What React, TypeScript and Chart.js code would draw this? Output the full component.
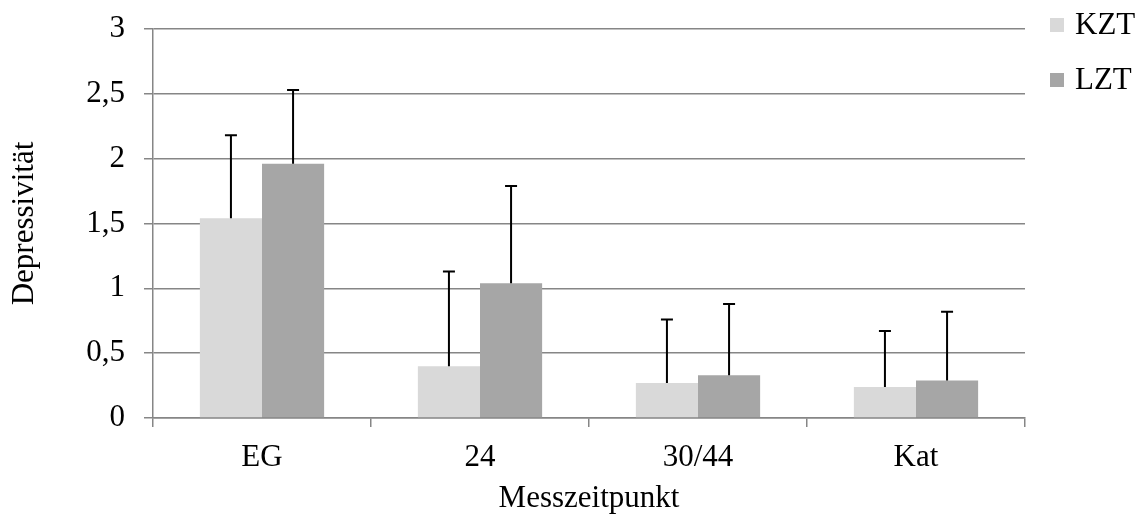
import React, { useEffect, useRef } from "react";
import { Chart, registerables } from "chart.js";

Chart.register(...registerables);

const categories = ["EG", "24", "30/44", "Kat"];
const seriesNames = ["KZT", "LZT"];
const kztValues = [1.54, 0.4, 0.27, 0.24];
const lztValues = [1.96, 1.04, 0.33, 0.29];
const kztErrors = [0.64, 0.73, 0.49, 0.43];
const lztErrors = [0.57, 0.75, 0.55, 0.53];
const yTicks = [0, 0.5, 1, 1.5, 2, 2.5, 3];

const FONT = '"Liberation Serif", "Times New Roman", serif';
const FS = 31;
const GRID = "#868686";
const COLORS = ["#d9d9d9", "#a6a6a6"];

const errorBarPlugin = {
  id: "errorBars",
  afterDatasetsDraw(chart: any) {
    const ctx = chart.ctx;
    const yScale = chart.scales.y;
    chart.data.datasets.forEach((ds: any, di: number) => {
      const meta = chart.getDatasetMeta(di);
      const errs: number[] = ds.errors || [];
      meta.data.forEach((el: any, i: number) => {
        const v = ds.data[i];
        const top = yScale.getPixelForValue(v + errs[i]);
        const base = el.y;
        ctx.save();
        ctx.strokeStyle = "#000";
        ctx.lineWidth = 2;
        ctx.beginPath();
        ctx.moveTo(el.x, base);
        ctx.lineTo(el.x, top);
        ctx.moveTo(el.x - 6, top);
        ctx.lineTo(el.x + 6, top);
        ctx.stroke();
        ctx.restore();
      });
    });
  },
};

const legendPlugin = {
  id: "customLegend",
  afterDraw(chart: any) {
    const ctx = chart.ctx;
    const x0 = chart.chartArea.right + 25;
    chart.data.datasets.forEach((ds: any, i: number) => {
      const cy = 25 + i * 55;
      ctx.save();
      ctx.fillStyle = ds.backgroundColor;
      ctx.fillRect(x0, cy - 7, 14, 14);
      ctx.fillStyle = "#000";
      ctx.font = `${FS}px ${FONT}`;
      ctx.textBaseline = "middle";
      ctx.textAlign = "left";
      ctx.fillText(ds.label, x0 + 25, cy + 1);
      ctx.restore();
    });
  },
};

export default function App() {
  const ref = useRef<HTMLCanvasElement>(null);
  useEffect(() => {
    document.body.style.margin = "0";
    const canvas = ref.current!;
    const chart = new Chart(canvas, {
      type: "bar",
      data: {
        labels: categories,
        datasets: [
          {
            label: seriesNames[0],
            data: kztValues,
            errors: kztErrors,
            backgroundColor: COLORS[0],
            borderWidth: 0,
            categoryPercentage: 0.57,
            barPercentage: 1,
          } as any,
          {
            label: seriesNames[1],
            data: lztValues,
            errors: lztErrors,
            backgroundColor: COLORS[1],
            borderWidth: 0,
            categoryPercentage: 0.57,
            barPercentage: 1,
          } as any,
        ],
      },
      options: {
        animation: false,
        responsive: false,
        devicePixelRatio: 1,
        layout: { padding: { top: 29, right: 117, left: 0, bottom: 0 } },
        plugins: {
          legend: { display: false },
          tooltip: { enabled: false },
        },
        scales: {
          x: {
            grid: {
              display: true,
              drawOnChartArea: false,
              drawTicks: true,
              tickLength: 9,
              color: GRID,
              lineWidth: 1.5,
              offset: true,
            },
            border: { color: GRID, width: 1.5 },
            ticks: {
              color: "#000",
              font: { family: FONT, size: FS },
              padding: 12,
              maxRotation: 0,
            },
            title: {
              display: true,
              text: "Messzeitpunkt",
              color: "#000",
              font: { family: FONT, size: FS },
              padding: { top: 4, bottom: 0 },
            },
            afterFit(s: any) {
              s.height = 99;
              s.paddingLeft = 0;
              s.paddingRight = 0;
            },
          },
          y: {
            min: 0,
            max: 3,
            afterBuildTicks(s: any) {
              s.ticks = yTicks.map((v) => ({ value: v }));
            },
            grid: {
              color: GRID,
              lineWidth: 1.5,
              tickLength: 9,
              drawTicks: true,
            },
            border: { color: GRID, width: 1.5 },
            ticks: {
              color: "#000",
              font: { family: FONT, size: FS },
              padding: 19,
              callback: (v: any) => String(v).replace(".", ","),
            },
            title: {
              display: true,
              text: "Depressivität",
              color: "#000",
              font: { family: FONT, size: FS },
              padding: { top: 6, bottom: 0 },
            },
            afterFit(s: any) {
              s.width = 153;
              s.paddingTop = 0;
              s.paddingBottom = 0;
            },
          },
        },
      } as any,
      plugins: [errorBarPlugin, legendPlugin],
    });
    return () => chart.destroy();
  }, []);
  return (
    <div style={{ width: 1142, height: 517 }}>
      <canvas ref={ref} width={1142} height={517} style={{ display: "block" }} />
    </div>
  );
}
